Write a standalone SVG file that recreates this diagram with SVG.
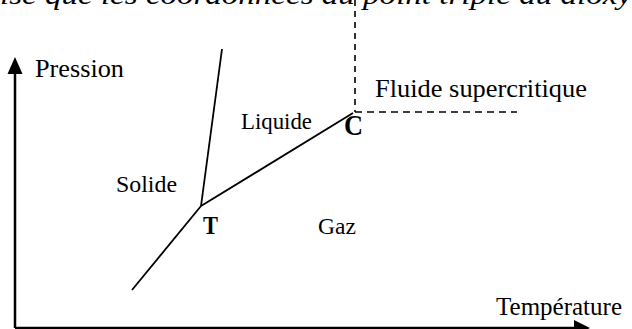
<svg xmlns="http://www.w3.org/2000/svg" width="632" height="329" viewBox="0 0 632 329">
<style>
text{font-family:"Liberation Serif","Times New Roman",serif;fill:#000}
.lbl{font-size:26px}
.sm{font-size:24px}
.pt{font-weight:bold}
.ax{stroke:#000;stroke-width:2.5;fill:none}
.ph{stroke:#000;stroke-width:1.8;fill:none}
.da{stroke:#000;stroke-width:1.6;fill:none;stroke-dasharray:7 5}
</style>
<rect width="632" height="329" fill="#fff"/>
<text x="0" y="4" style="font-size:28px;font-style:italic" textLength="632" lengthAdjust="spacingAndGlyphs">ise que les coordonnées du point triple du dioxy</text>
<g id="axes">
<line class="ax" x1="15" y1="328" x2="15" y2="70"/>
<polygon points="15,57 7.5,74 22.5,74"/>
<line class="ax" x1="15" y1="328" x2="578" y2="328"/>
<polygon points="590,328 574,320 574,336"/>
</g>
<g id="connectors">
<line class="ph" x1="201" y1="206" x2="222" y2="49"/>
<line class="ph" x1="201" y1="206" x2="132" y2="290"/>
<line class="ph" x1="201" y1="206" x2="353" y2="113"/>
<line class="da" x1="355" y1="0" x2="355" y2="112" style="stroke-dasharray:6 5"/>
<line class="da" x1="355" y1="112" x2="517" y2="112"/>
</g>
<g id="pression"><text class="lbl" x="35" y="77" textLength="89" lengthAdjust="spacingAndGlyphs">Pression</text></g>
<g id="temperature"><text class="lbl" x="496" y="315" textLength="126" lengthAdjust="spacingAndGlyphs">Température</text></g>
<g id="fluide"><text class="lbl" x="375" y="97" textLength="212" lengthAdjust="spacingAndGlyphs">Fluide supercritique</text></g>
<g id="solide"><text class="sm" x="116" y="192" textLength="61" lengthAdjust="spacingAndGlyphs">Solide</text></g>
<g id="liquide"><text class="sm" x="241" y="129" textLength="71" lengthAdjust="spacingAndGlyphs">Liquide</text></g>
<g id="gaz"><text class="sm" x="318" y="234" textLength="38" lengthAdjust="spacingAndGlyphs">Gaz</text></g>
<g id="pointC"><text class="pt" x="344" y="135" style="font-size:29px" textLength="19" lengthAdjust="spacingAndGlyphs">C</text></g>
<g id="pointT"><text class="pt" x="203" y="234" style="font-size:25px" textLength="15" lengthAdjust="spacingAndGlyphs">T</text></g>
</svg>
